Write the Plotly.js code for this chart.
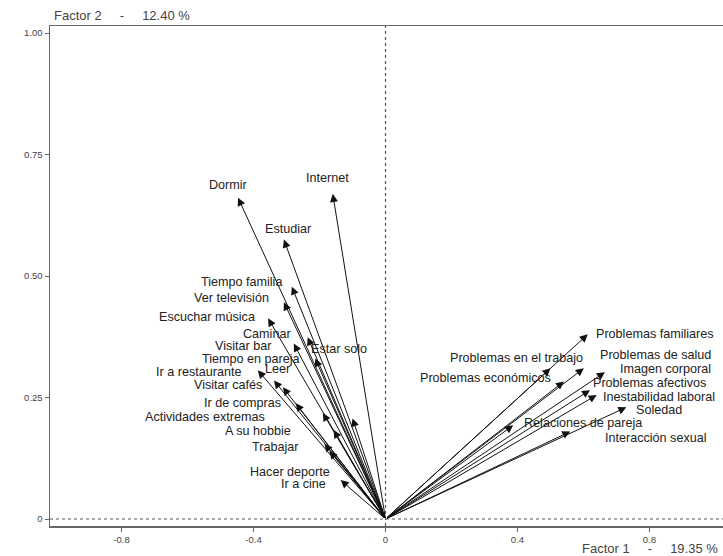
<!DOCTYPE html>
<html>
<head>
<meta charset="utf-8">
<script src="https://cdn.plot.ly/plotly-3.0.1.min.js"></script>
<style>
html,body{margin:0;padding:0;background:#fff;}
#chart{width:723px;height:556px;}
</style>
</head>
<body>
<div id="chart"></div>
<script>
// Variables (arrow tips on the factorial plane)
const variables = [
  "Dormir","Internet","Estudiar","Tiempo familia","Ver televisión","Escuchar música",
  "Caminar","Visitar bar","Tiempo en pareja","Estar solo","Leer","Ir a restaurante",
  "Visitar cafés","Ir de compras","Actividades extremas","A su hobbie","Trabajar",
  "Hacer deporte","Ir a cine",
  "Problemas familiares","Problemas en el trabajo","Problemas de salud","Imagen corporal",
  "Problemas económicos","Problemas afectivos","Inestabilidad laboral","Soledad",
  "Relaciones de pareja","Interacción sexual"
];
const factor1 = [
  -0.447,-0.160,-0.308,-0.284,-0.308,-0.356,
  -0.236,-0.278,-0.213,-0.100,-0.338,-0.387,
  -0.311,-0.272,-0.190,-0.157,-0.185,
  -0.170,-0.136,
  0.613,0.500,0.601,0.665,
  0.541,0.620,0.640,0.730,
  0.387,0.560
];
const factor2 = [
  0.661,0.669,0.575,0.478,0.446,0.413,
  0.374,0.361,0.330,0.207,0.285,0.306,
  0.271,0.238,0.218,0.183,0.155,
  0.140,0.080,
  0.380,0.310,0.310,0.302,
  0.283,0.265,0.255,0.230,
  0.193,0.180
];
const xTickVals = [-0.8,-0.4,0,0.4,0.8];
const xTickText = ["-0.8","-0.4","0","0.4","0.8"];
const yTickVals = [0,0.25,0.5,0.75,1.0];
const yTickText = ["0","0.25","0.50","0.75","1.00"];
const gap = "\u00a0\u00a0\u00a0\u00a0\u00a0";
const xTitle = "Factor 1" + gap + "-" + gap + "19.35 %";
const yTitle = "Factor 2" + gap + "-" + gap + "12.40 %";

// Label placement (pixel offsets from arrow tip) — layout only
const labelPlace = [
  ["center",-10,13],["center",-5,16],["center",4,11],["right",-8,5],["right",-13,4],["right",-11,1],
  ["right",-15,3],["right",-21,-2],["right",-13,0],["left",-44,69],["left",-11,11],["right",-15,-2],
  ["right",-19,2],["right",-13,0],["right",-56,-4],["right",-41,-1],["right",-24,-3],
  ["right",3,-21],["right",-13,-4],
  ["left",6,0],["right",35,10],["left",14,13],["left",13,3],
  ["right",-11,3],["left",1,7],["left",4,-2],["left",8,-3],
  ["left",9,2],["left",33,-6]
];

const font = "Liberation Sans, Arial, sans-serif";
const annotations = [];
variables.forEach((v,i)=>{
  annotations.push({
    x: factor1[i], y: factor2[i], xref:"x", yref:"y",
    ax: 0, ay: 0, axref:"x", ayref:"y",
    text:"", showarrow:true, arrowhead:2, arrowsize:1.6, arrowwidth:1,
    arrowcolor:"#111", standoff:0, startstandoff:0
  });
});
variables.forEach((v,i)=>{
  const p = labelPlace[i];
  annotations.push({
    x: factor1[i], y: factor2[i], xref:"x", yref:"y",
    text: v, showarrow:false, xanchor:p[0], yanchor:"middle",
    xshift:p[1], yshift:p[2],
    font:{family:font, size:12.6, color:"#222"}
  });
});
annotations.push({
  xref:"paper", yref:"paper", x:1, y:0, xanchor:"right", yanchor:"middle",
  xshift:-3, yshift:-22, text:xTitle, showarrow:false, font:{family:font,size:13,color:"#444"}
});
annotations.push({
  xref:"paper", yref:"paper", x:0, y:1, xanchor:"left", yanchor:"middle",
  xshift:2, yshift:11, text:yTitle, showarrow:false, font:{family:font,size:13,color:"#444"}
});

const trace = {
  x: factor1, y: factor2, type:"scatter", mode:"markers",
  marker:{size:1, color:"rgba(0,0,0,0)"}, hoverinfo:"skip", showlegend:false
};

const layout = {
  width:723, height:556,
  margin:{l:50, r:0, t:26, b:30},
  paper_bgcolor:"#fff", plot_bgcolor:"#fff",
  showlegend:false,
  xaxis:{
    range:[-1.017,1.023], tickvals:xTickVals, ticktext:xTickText,
    showgrid:false, zeroline:false, showline:true, mirror:true,
    linecolor:"#666", linewidth:1.5, ticks:"outside", ticklen:4, tickcolor:"#666",
    tickfont:{family:font,size:9.5,color:"#444"}
  },
  yaxis:{
    range:[-0.0144,1.0144], tickvals:yTickVals, ticktext:yTickText,
    showgrid:false, zeroline:false, showline:true,
    linecolor:"#666", linewidth:1.5, ticks:"outside", ticklen:4, tickcolor:"#666",
    tickfont:{family:font,size:9.5,color:"#444"}
  },
  shapes:[
    {type:"line", xref:"x", yref:"paper", x0:0, x1:0, y0:0, y1:1,
     line:{color:"#555", width:1.2, dash:"dot"}},
    {type:"line", xref:"paper", yref:"y", x0:0, x1:1, y0:0, y1:0,
     line:{color:"#555", width:1.2, dash:"dot"}}
  ],
  annotations: annotations
};

Plotly.newPlot("chart",[trace],layout,{displayModeBar:false, staticPlot:true});
</script>
</body>
</html>
